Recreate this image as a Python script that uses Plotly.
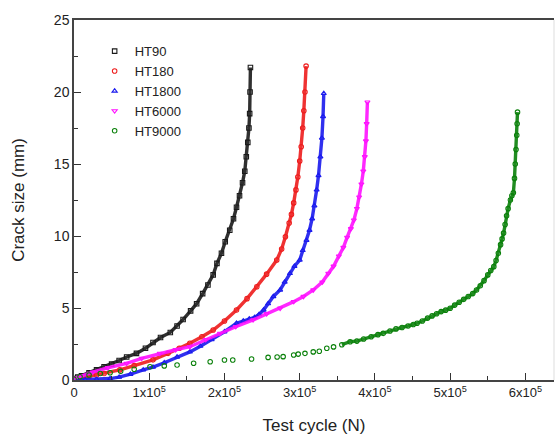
import numpy as np
import plotly.graph_objects as go

# ---------------- data ----------------
ht90_n = [0, 5000, 10000, 20000, 30000, 40000, 50000, 60000, 70000, 83000, 95000, 105000,
          115000, 128000, 137000, 145000, 155000, 163000, 171000, 178000, 185000, 190000,
          196000, 201000, 207000, 212000, 216000, 220000, 224000, 227000, 229000, 231000,
          232500, 233500, 234000, 234500]
ht90_a = [0.1, 0.2, 0.3, 0.5, 0.7, 0.92, 1.1, 1.35, 1.6, 1.85, 2.2, 2.6,
          2.95, 3.3, 3.75, 4.2, 4.8, 5.3, 6.0, 6.6, 7.3, 8.1,
          8.8, 9.6, 10.4, 11.2, 12.0, 12.8, 13.7, 14.5, 15.5, 16.5,
          17.5, 18.5, 20.0, 21.7]

ht180_n = [0, 10000, 20000, 30000, 40000, 61000, 80000, 105000, 125000, 140000, 154000,
           170000, 185000, 200000, 216000, 230000, 243000, 256000, 269500, 276000, 281000,
           286000, 289000, 292000, 295000, 297500, 300000, 302000, 304000, 305500, 307000,
           308500]
ht180_a = [0.05, 0.15, 0.25, 0.35, 0.45, 0.7, 1.0, 1.4, 1.85, 2.2, 2.55,
           3.0, 3.47, 4.1, 4.86, 5.65, 6.48, 7.35, 8.33, 9.1, 9.95,
           10.9, 11.5, 12.3, 13.2, 14.1, 15.2, 16.2, 17.5, 18.7, 20.0,
           21.8]

ht1800_n = [0, 15000, 30000, 48000, 60000, 75000, 92000, 105000, 120000, 137000, 154000,
            168000, 183000, 200000, 216000, 225000, 233000, 240000, 246000, 252000, 258000,
            265000, 274000, 280000, 287000, 293000, 300000, 304000, 309000, 313000, 316500,
            319500, 322500, 325000, 327500, 329500, 331000, 332000]
ht1800_a = [0.0, 0.02, 0.05, 0.1, 0.2, 0.4, 0.7, 0.9, 1.2, 1.6, 1.95,
            2.35, 2.8, 3.35, 3.94, 4.1, 4.25, 4.35, 4.55, 4.86, 5.3,
            5.8, 6.25, 6.8, 7.4, 7.9, 8.33, 9.0, 9.7, 10.4, 11.2,
            12.1, 13.2, 14.2, 15.5, 16.8, 18.3, 19.9]

ht6000_n = [0, 10000, 25000, 45000, 70000, 90000, 114000, 135000, 154000, 175000, 194000,
            215000, 238000, 256000, 274000, 292000, 305000, 318000, 330000, 338000, 345000,
            352000, 358000, 363000, 368000, 372000, 376000, 379000, 382000, 384500, 386500,
            388000, 389000, 390000]
ht6000_a = [0.1, 0.3, 0.55, 0.85, 1.15, 1.5, 1.85, 2.1, 2.31, 2.8, 3.24,
            3.7, 4.17, 4.6, 4.98, 5.44, 5.8, 6.25, 6.8, 7.4, 7.9,
            8.6, 9.2, 9.9, 10.5, 11.1, 11.9, 12.7, 13.6, 14.5, 15.5,
            16.6, 17.8, 19.3]

ht9000_n = [0, 8000, 20000, 35000, 48000, 62000, 80000, 101000, 120000, 137000, 159000,
            181000, 200000, 211000, 236000, 258000, 270000, 278000, 292000, 298000, 307000,
            318000, 326000, 336000, 345000, 356000, 367000, 376000, 385000, 395000, 404000,
            411000, 420000, 428000, 436000, 444000, 451000, 456000, 463000, 470000, 476000,
            482000, 488000, 494000, 500000, 506000, 512000, 518000, 524000, 530000, 535000,
            540000, 545000, 550000, 554000, 558000, 561000, 564000, 567000, 569000, 571000,
            573000, 575000, 577000, 580000, 582000, 584000, 585500, 586500, 587500, 588500,
            589000, 589500]
ht9000_a = [0.05, 0.23, 0.35, 0.45, 0.5, 0.6, 0.75, 0.92, 0.98, 1.04, 1.16,
            1.27, 1.39, 1.39, 1.46, 1.57, 1.6, 1.62, 1.74, 1.8, 1.85,
            1.95, 2.0, 2.2, 2.3, 2.45, 2.66, 2.7, 2.85, 3.0, 3.15,
            3.24, 3.4, 3.55, 3.65, 3.75, 3.85, 3.94, 4.1, 4.3, 4.45,
            4.6, 4.75, 4.85, 4.98, 5.2, 5.4, 5.6, 5.8, 6.0, 6.25,
            6.55, 6.9, 7.3, 7.6, 7.87, 8.3, 8.8, 9.4, 9.8, 10.2,
            10.8, 11.4, 11.9, 12.5, 12.8, 13.0, 14.0, 15.0, 16.0, 17.0,
            17.8, 18.6]

series_names = ["HT90", "HT180", "HT1800", "HT6000", "HT9000"]
x_tick_vals = [0, 100000, 200000, 300000, 400000, 500000, 600000]
x_tick_text = ["0", "1x10<sup>5</sup>", "2x10<sup>5</sup>", "3x10<sup>5</sup>",
               "4x10<sup>5</sup>", "5x10<sup>5</sup>", "6x10<sup>5</sup>"]
y_tick_vals = [0, 5, 10, 15, 20, 25]

# ---------------- styling ----------------
colors = ["#1a1a1a", "#ee1c1c", "#1a1aee", "#ff11ff", "#0a800a"]
symbols = ["square-open", "circle-open", "triangle-up-open", "triangle-down-open", "circle-open"]
data = [(ht90_n, ht90_a), (ht180_n, ht180_a), (ht1800_n, ht1800_a),
        (ht6000_n, ht6000_a), (ht9000_n, ht9000_a)]

fig = go.Figure()
for name, (xn, ya), c, s in zip(series_names, data, colors, symbols):
    xn = np.array(xn)
    ya = np.array(ya)
    if name == "HT9000":
        m = xn >= 355000
        lx, ly = xn[m], ya[m]
    else:
        lx, ly = xn, ya
    fig.add_trace(go.Scatter(x=lx, y=ly, mode="lines", line=dict(color=c, width=3.4),
                             opacity=0.9, showlegend=False, hoverinfo="skip"))
    fig.add_trace(go.Scatter(x=xn, y=ya, mode="markers", name=name,
                             marker=dict(symbol=s, size=4.5, color=c, line=dict(color=c, width=1.1))))

fnt = "Liberation Sans, Arial, sans-serif"
fig.update_layout(
    width=559, height=435,
    margin=dict(l=74, r=5, t=20, b=55),
    paper_bgcolor="white", plot_bgcolor="white",
    font=dict(family=fnt, size=14, color="#222"),
    showlegend=True,
    legend=dict(x=0.043, y=0.955, xanchor="left", yanchor="top",
                bgcolor="rgba(255,255,255,0)", font=dict(family=fnt, size=13, color="#222"),
                tracegroupgap=0, itemwidth=30),
    xaxis=dict(range=[0, 638000], tickvals=x_tick_vals, ticktext=x_tick_text,
               ticks="inside", ticklen=7, tickwidth=1.3, tickcolor="#333",
               minor=dict(tickvals=[50000, 150000, 250000, 350000, 450000, 550000],
                          ticks="inside", ticklen=4, tickwidth=1.2, tickcolor="#333"),
               showline=True, linecolor="#444", linewidth=1.5, mirror=True,
               showgrid=False, zeroline=False, automargin=False,
               tickfont=dict(family=fnt, size=13, color="#222"),
               title=dict(text="Test cycle (N)", font=dict(family=fnt, size=17, color="#222"), standoff=20)),
    yaxis=dict(range=[0, 25], tickvals=y_tick_vals,
               ticks="inside", ticklen=7, tickwidth=1.3, tickcolor="#333",
               minor=dict(tickvals=[2.5, 7.5, 12.5, 17.5, 22.5],
                          ticks="inside", ticklen=4, tickwidth=1.2, tickcolor="#333"),
               showline=True, linecolor="#444", linewidth=1.5, mirror=False,
               showgrid=False, zeroline=False, automargin=False,
               tickfont=dict(family=fnt, size=14, color="#222"),
               title=dict(text="Crack size (mm)", font=dict(family=fnt, size=17, color="#222"), standoff=25)),
)
fig.add_shape(type="line", xref="paper", yref="paper", x0=1, x1=1, y0=0, y1=1,
              line=dict(color="#dddddd", width=1))

fig.write_html("out.html", post_script="document.body.style.margin='0';",
               config={"displayModeBar": False})
